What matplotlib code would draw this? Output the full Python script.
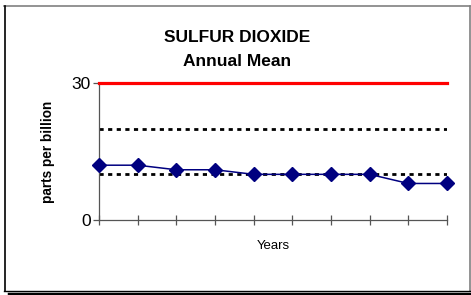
import matplotlib
matplotlib.use("Agg")
import matplotlib.pyplot as plt
from matplotlib.lines import Line2D

plt.rcParams["font.family"] = ["Liberation Sans", "DejaVu Sans"]

# data
years = list(range(10))
annual_mean = [12, 12, 11, 11, 10, 10, 10, 10, 8, 8]
standard = 30
dotted_refs = [20, 10]
y_ticks = [0, 30]

W, H = 471, 295
fig = plt.figure(figsize=(W / 100, H / 100), dpi=100)

def fx(px):
    return px / W

def fy(py):
    return 1 - py / H

# axes box in pixels: x 99..447, y 83..220
ax = fig.add_axes([fx(99), fy(220), fx(447) - fx(99), fy(83) - fy(220)])

ax.axhline(standard, color="#ff0000", lw=2.3, clip_on=False, zorder=3)
for v in dotted_refs:
    ax.axhline(v, color="black", lw=2.0, linestyle=(0, (1.5, 1.6)), zorder=2)
ax.plot(years, annual_mean, color="#000080", lw=1.1, marker="D", markersize=7,
        clip_on=False, zorder=4)

ax.set_xlim(0, 9)
ax.set_ylim(0, 30)
ax.set_yticks(y_ticks)
ax.set_xticks(years)
ax.set_xticklabels([])
for s in ["top", "right"]:
    ax.spines[s].set_visible(False)
for s in ["left", "bottom"]:
    ax.spines[s].set_color("#555555")
    ax.spines[s].set_linewidth(0.9)
ax.tick_params(axis="x", direction="inout", length=7, width=0.9, color="#555555")
ax.tick_params(axis="y", direction="out", length=4, width=0.9, color="#555555",
               labelsize=12.5, pad=2)

fig.text(fx(237), fy(38), "SULFUR DIOXIDE", ha="center", va="center",
         fontsize=12.5, fontweight="bold")
fig.text(fx(237), fy(62), "Annual Mean", ha="center", va="center",
         fontsize=12.5, fontweight="bold")
fig.text(fx(48), fy(152), "parts per billion", rotation=90, ha="center", va="center",
         fontsize=9.8, fontweight="bold")
fig.text(fx(273), fy(246), "Years", ha="center", va="center", fontsize=9.5)

# chart frame with shadow
fig.add_artist(Line2D([fx(4), fx(470)], [fy(6), fy(6)], color="#808080", lw=1.2))
fig.add_artist(Line2D([fx(470), fx(470)], [fy(6), fy(291)], color="#808080", lw=1.2))
fig.add_artist(Line2D([fx(4.5), fx(4.5)], [fy(6), fy(291)], color="black", lw=1.2))
fig.add_artist(Line2D([fx(4), fx(470)], [fy(291), fy(291)], color="black", lw=1.0))
fig.add_artist(Line2D([fx(9), fx(471)], [fy(293.5), fy(293.5)], color="black", lw=2.5))

fig.savefig("out.png", dpi=100)
